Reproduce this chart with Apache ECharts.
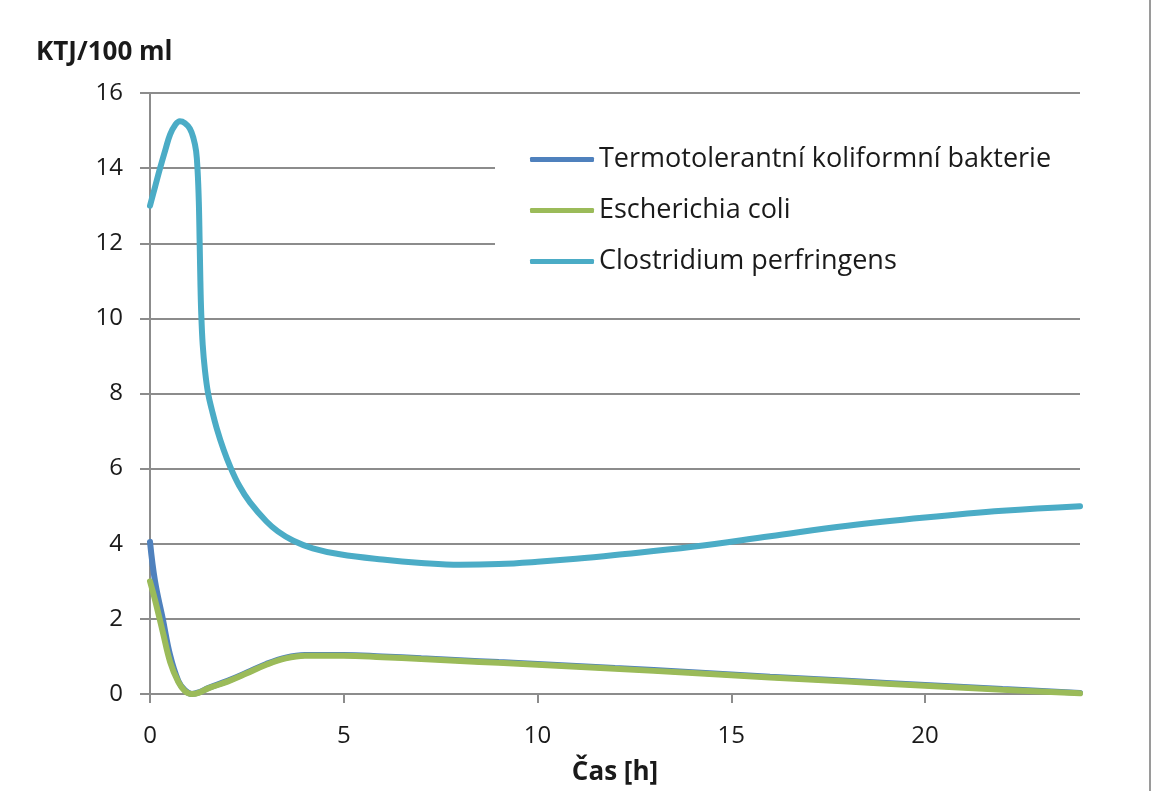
<!DOCTYPE html>
<html>
<head>
<meta charset="utf-8">
<script src="https://cdn.jsdelivr.net/npm/echarts@6/dist/echarts.min.js"></script>
<style>
  html, body { margin: 0; padding: 0; background: #fff; overflow: hidden; }
  #chart { width: 1156px; height: 791px; }
</style>
</head>
<body>
<div id="chart"></div>
<script>
  // hodnoty
  var seriesNames = ['Termotolerantní koliformní bakterie', 'Escherichia coli', 'Clostridium perfringens'];
  var xTicks = [0, 5, 10, 15, 20];

  var kolHours = [0, 0.13, 0.33, 0.52, 0.73, 0.9, 1.08, 1.3, 1.5, 2, 2.5, 3, 3.5, 4, 5, 6, 7, 8, 9, 10, 12, 14, 16, 18, 20, 22, 24];
  var kolValues = [4.05, 3.0, 2.0, 1.03, 0.35, 0.1, 0.0, 0.06, 0.16, 0.35, 0.57, 0.8, 0.97, 1.04, 1.04, 1.0, 0.95, 0.9, 0.85, 0.8, 0.69, 0.58, 0.46, 0.35, 0.24, 0.13, 0.03];
  var coliValues = [3.0, 2.5, 1.65, 0.85, 0.32, 0.08, 0.0, 0.05, 0.15, 0.33, 0.55, 0.78, 0.95, 1.02, 1.02, 0.98, 0.93, 0.88, 0.83, 0.78, 0.67, 0.56, 0.44, 0.33, 0.22, 0.11, 0.02];

  var cpHours = [0, 0.13, 0.26, 0.4, 0.52, 0.65, 0.77, 0.9, 1.03, 1.12, 1.19, 1.23, 1.26, 1.28, 1.30, 1.32, 1.36, 1.42, 1.5, 1.6, 1.72, 1.9, 2.07, 2.3, 2.58, 3.0, 3.3, 3.7, 4.2, 4.9, 6, 7, 8, 9, 10, 11, 12, 14, 16, 18, 20, 22, 24];
  var cpValues = [13.0, 13.5, 14.0, 14.5, 14.9, 15.15, 15.25, 15.2, 15.05, 14.8, 14.45, 13.9, 13.1, 12.1, 11.0, 10.2, 9.3, 8.6, 8.0, 7.55, 7.08, 6.5, 6.05, 5.55, 5.1, 4.6, 4.33, 4.08, 3.88, 3.72, 3.58, 3.49, 3.44, 3.46, 3.52, 3.6, 3.7, 3.92, 4.2, 4.48, 4.7, 4.88, 5.0];

  var colors = ['#4f81bd', '#9bbb59', '#4bacc6'];

  function pairs(xs, ys) {
    var out = [];
    for (var i = 0; i < xs.length; i++) out.push([xs[i], ys[i]]);
    return out;
  }

  var font = '"Open Sans", Lato, sans-serif';
  var myChart = echarts.init(document.getElementById('chart'));
  myChart.setOption({
    animation: false,
    color: colors,
    textStyle: { fontFamily: font },
    title: {
      text: 'KTJ/100 ml',
      left: 31,
      top: 35,
      textStyle: { fontSize: 26, fontWeight: 'bold', color: '#1a1a1a', fontFamily: font }
    },
    grid: { left: 150, width: 930, top: 93, height: 607, containLabel: false },
    legend: {
      orient: 'vertical',
      left: 495,
      top: 136,
      padding: [10, 35, 10, 35],
      backgroundColor: '#fff',
      icon: 'roundRect',
      itemWidth: 64,
      itemHeight: 5,
      itemGap: 24,
      textStyle: { fontSize: 27, color: '#1a1a1a', fontFamily: font, lineHeight: 27 },
      data: seriesNames
    },
    xAxis: {
      type: 'value',
      min: 0,
      max: 24,
      interval: 5,
      name: 'Čas [h]',
      nameLocation: 'middle',
      nameGap: 66,
      nameTextStyle: { fontSize: 26, fontWeight: 'bold', color: '#1a1a1a', fontFamily: font },
      axisLine: { lineStyle: { color: '#8c8c8c', width: 2 } },
      axisTick: { show: true, length: 9, lineStyle: { color: '#8c8c8c', width: 2 }, customValues: xTicks },
      axisLabel: { fontSize: 24, color: '#1a1a1a', margin: 30, customValues: xTicks },
      splitLine: { show: false }
    },
    yAxis: {
      type: 'value',
      min: 0,
      max: 16,
      interval: 2,
      axisLine: { show: true, lineStyle: { color: '#8c8c8c', width: 2 } },
      axisTick: { show: true, length: 10, lineStyle: { color: '#8c8c8c', width: 2 } },
      axisLabel: { fontSize: 24, color: '#1a1a1a', margin: 27 },
      splitLine: { show: true, lineStyle: { color: '#8c8c8c', width: 2 } }
    },
    graphic: [{
      type: 'line',
      shape: { x1: 1150, y1: 0, x2: 1150, y2: 791 },
      style: { stroke: '#9a9a9a', lineWidth: 2 }
    }],
    series: [
      {
        name: seriesNames[0], type: 'line', smooth: 0.4, showSymbol: false,
        lineStyle: { width: 6, color: colors[0], cap: 'round' },
        data: pairs(kolHours, kolValues)
      },
      {
        name: seriesNames[1], type: 'line', smooth: 0.4, showSymbol: false,
        lineStyle: { width: 6, color: colors[1], cap: 'round' },
        data: pairs(kolHours, coliValues)
      },
      {
        name: seriesNames[2], type: 'line', smooth: 0.4, showSymbol: false,
        lineStyle: { width: 6, color: colors[2], cap: 'round' },
        data: pairs(cpHours, cpValues)
      }
    ]
  });
</script>
</body>
</html>
